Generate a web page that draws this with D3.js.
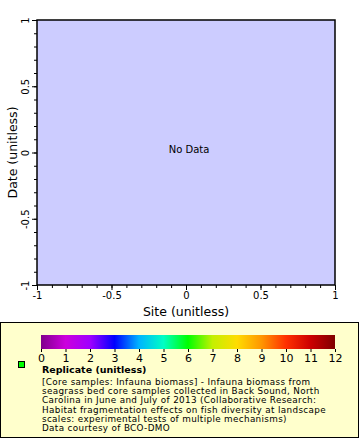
<!DOCTYPE html>
<html>
<head>
<meta charset="utf-8">
<script src="https://cdn.jsdelivr.net/npm/d3@7"></script>
<style>
  body { margin: 0; background: #fff; }
  svg { display: block; font-family: "DejaVu Sans", sans-serif; }
</style>
</head>
<body>
<div id="chart"></div>
<script>
// axis domains and ticks
const xDomain = [-1, 1];
const yDomain = [-1, 1];
const xTickValues = [-1, -0.5, 0, 0.5, 1];
const yTickValues = [-1, -0.5, 0, 0.5, 1];
const xTitle = "Site (unitless)";
const yTitle = "Date (unitless)";
const noDataText = "No Data";

// colour bar
const colorDomain = [0, 12];
const colorTicks = [0, 1, 2, 3, 4, 5, 6, 7, 8, 9, 10, 11, 12];
const colorStops = ["#80008c", "#cc00dd", "#9f00ff", "#0000ff", "#00b4ff", "#00ffc4",
  "#00ff00", "#c4f000", "#ffdc00", "#ff9600", "#ff3000", "#cc0000", "#800000"];

// legend
const legendTitle = "Replicate (unitless)";
const legendLines = [
  "[Core samples: Infauna biomass] - Infauna biomass from",
  "seagrass bed core samples collected in Back Sound, North",
  "Carolina in June and July of 2013 (Collaborative Research:",
  "Habitat fragmentation effects on fish diversity at landscape",
  "scales: experimental tests of multiple mechanisms)",
  "Data courtesy of BCO-DMO"
];
const legendSwatch = "#00ff00";

const width = 360, height = 440;
const plot = { left: 37, right: 335, top: 20, bottom: 285 };

const svg = d3.select("#chart").append("svg")
  .attr("width", width)
  .attr("height", height);

const x = d3.scaleLinear().domain(xDomain).range([plot.left, plot.right]);
const y = d3.scaleLinear().domain(yDomain).range([plot.bottom, plot.top]);

// plot background
svg.append("rect")
  .attr("x", x(xDomain[0]))
  .attr("y", y(yDomain[1]))
  .attr("width", x(xDomain[1]) - x(xDomain[0]))
  .attr("height", y(yDomain[0]) - y(yDomain[1]))
  .attr("fill", "#ccccff");

svg.append("text")
  .attr("x", (x(xDomain[0]) + x(xDomain[1])) / 2 + 3)
  .attr("y", (y(yDomain[0]) + y(yDomain[1])) / 2 - 3)
  .attr("dy", "0.35em")
  .attr("text-anchor", "middle")
  .attr("font-size", 10)
  .text(noDataText);

// minor ticks every 0.1
const minor = d3.range(-10, 11).map(d => d / 10);

const xAxis = svg.append("g")
  .attr("transform", `translate(0,${plot.bottom})`);
xAxis.call(d3.axisBottom(x).tickValues(minor).tickSize(3).tickFormat(""));
xAxis.call(g => g.select(".domain").remove());
const xMajor = svg.append("g")
  .attr("transform", `translate(0,${plot.bottom})`)
  .call(d3.axisBottom(x).tickValues(xTickValues).tickSize(5).tickPadding(2)
    .tickFormat(d => String(d)));
xMajor.select(".domain").remove();
xMajor.selectAll("text").attr("font-size", 10).attr("font-family", "DejaVu Sans").attr("fill", "#000");

const yAxis = svg.append("g")
  .attr("transform", `translate(${plot.left},0)`);
yAxis.call(d3.axisLeft(y).tickValues(minor).tickSize(3).tickFormat(""));
yAxis.call(g => g.select(".domain").remove());
const yMajor = svg.append("g")
  .attr("transform", `translate(${plot.left},0)`)
  .call(d3.axisLeft(y).tickValues(yTickValues).tickSize(5).tickFormat(d => String(d)));
yMajor.select(".domain").remove();
yMajor.selectAll("text")
  .attr("font-size", 10)
  .attr("font-family", "DejaVu Sans")
  .attr("fill", "#000")
  .attr("x", null)
  .attr("dy", null)
  .attr("text-anchor", "middle")
  .attr("transform", "translate(-8,0) rotate(-90)");

svg.selectAll(".tick line").attr("stroke", "#000");

// plot frame
svg.append("rect")
  .attr("x", x(xDomain[0]))
  .attr("y", y(yDomain[1]))
  .attr("width", x(xDomain[1]) - x(xDomain[0]))
  .attr("height", y(yDomain[0]) - y(yDomain[1]))
  .attr("fill", "none")
  .attr("stroke", "#000")
  .attr("stroke-width", 1.5);

// axis titles
svg.append("text")
  .attr("x", (plot.left + plot.right) / 2)
  .attr("y", 316)
  .attr("text-anchor", "middle")
  .attr("font-size", 12.5)
  .text(xTitle);

svg.append("text")
  .attr("transform", `translate(17,${(plot.top + plot.bottom) / 2}) rotate(-90)`)
  .attr("text-anchor", "middle")
  .attr("font-size", 12.5)
  .text(yTitle);

// legend box
const legend = svg.append("g");
legend.append("rect")
  .attr("x", 0.5).attr("y", 322.5)
  .attr("width", 358).attr("height", 115)
  .attr("fill", "#ffffcc")
  .attr("stroke", "#000")
  .attr("stroke-width", 1);

// colour bar
const cx = d3.scaleLinear().domain(colorDomain).range([41, 335]);
const grad = svg.append("defs").append("linearGradient")
  .attr("id", "cbar")
  .attr("x1", "0%").attr("x2", "100%");
grad.selectAll("stop")
  .data(colorStops)
  .join("stop")
  .attr("offset", (d, i) => (i / (colorStops.length - 1) * 100) + "%")
  .attr("stop-color", d => d);

legend.append("rect")
  .attr("x", cx(colorDomain[0]))
  .attr("y", 335)
  .attr("width", cx(colorDomain[1]) - cx(colorDomain[0]))
  .attr("height", 14)
  .attr("fill", "url(#cbar)");

const cAxis = legend.append("g")
  .attr("transform", "translate(0,349)")
  .call(d3.axisBottom(cx).tickValues(colorTicks).tickSize(3).tickPadding(2)
    .tickFormat(d3.format("d")));
cAxis.select(".domain").remove();
cAxis.selectAll("line").attr("stroke", "#000");
cAxis.selectAll("text").attr("font-size", 11).attr("font-family", "DejaVu Sans").attr("fill", "#000");

// legend entry
legend.append("rect")
  .attr("x", 18.5).attr("y", 361.5)
  .attr("width", 6).attr("height", 6)
  .attr("fill", legendSwatch)
  .attr("stroke", "#000");

legend.append("text")
  .attr("x", 42).attr("y", 373)
  .attr("font-size", 9.5)
  .attr("font-weight", "bold")
  .text(legendTitle);

legend.selectAll("text.line")
  .data(legendLines)
  .join("text")
  .attr("class", "line")
  .attr("x", 42)
  .attr("y", (d, i) => 385 + i * 9.2)
  .attr("font-size", 8.8)
  .attr("letter-spacing", 0.35)
  .text(d => d);
</script>
</body>
</html>
